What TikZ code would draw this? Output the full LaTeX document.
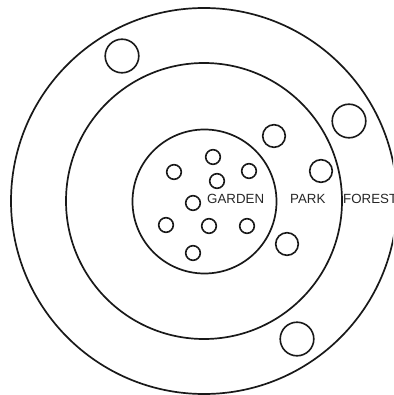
\documentclass[tikz,border=0pt]{standalone}
\usepackage{fontspec}
\setmainfont{Liberation Sans}
\begin{document}
\begin{tikzpicture}[x=1pt,y=-1pt,
  ring/.style={draw=black!90,line width=1.7pt},
  tree/.style={draw=black!90,line width=1.6pt},
  lbl/.style={font=\fontsize{13.3}{15}\selectfont,text=black!85,inner sep=0pt}]
\useasboundingbox (0,0) rectangle (393,395);
\clip (0,0) rectangle (393,395);
% rings
\draw[ring] (204,201) circle (193);
\draw[ring] (204,201) circle (138);
\draw[ring] (204.5,201.5) circle (72);
% garden shrubs
\foreach \p in {(213,157),(174,172),(249,171),(217,181),(193,203),(166,225),(209,226),(247,226),(193,253)}
  \draw[tree] \p circle (7.3);
% park trees
\foreach \p in {(274,136),(321,171),(287,244)}
  \draw[tree] \p circle (11.3);
% forest trees
\foreach \p in {(122,56),(349,121),(297,339)}
  \draw[tree] \p circle (16.8);
% labels
\node[lbl,anchor=west] (garden) at (207,199) {GARDEN};
\node[lbl,anchor=west] (park) at (290,199) {PARK};
\node[lbl,anchor=west] (forest) at (343,199) {FOREST};
\end{tikzpicture}
\end{document}
